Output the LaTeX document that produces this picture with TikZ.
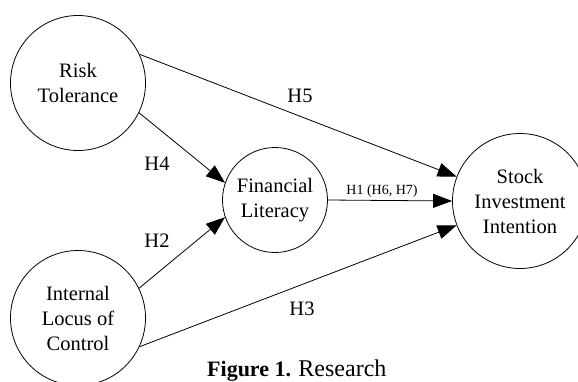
\documentclass[tikz,border=0pt]{standalone}
\usepackage{fontspec}
\setmainfont{Liberation Serif}
\usetikzlibrary{arrows.meta}
\begin{document}
\begin{tikzpicture}[x=1pt,y=-1pt,
  construct/.style={draw, circle, line width=0.8pt, minimum size=135pt, inner sep=0pt, align=center, font=\fontsize{20.5}{25}\selectfont},
  smallconstruct/.style={construct, minimum size=105pt},
  path/.style={line width=0.8pt, -{Triangle[length=19pt,width=14pt]}},
  hlabel/.style={font=\fontsize{20.5}{24}\selectfont, inner sep=0pt}]
\useasboundingbox (0,0) rectangle (578,381);
\node[construct] (risk) at (78,83) {Risk\\Tolerance};
\node[construct] (ilc) at (78,318) {Internal\\Locus of\\Control};
\node[smallconstruct] (fl) at (275,200) {Financial\\Literacy};
\node[construct] (sii) at (520,201) {Stock\\Investment\\Intention};
\draw[path] (risk.25) -- (sii.159);
\draw[path] (risk.-26) -- (fl.161);
\draw[path] (ilc.26) -- (fl.199);
\draw[path] (ilc.-25) -- (sii.201);
\draw[path] (fl.0) -- (sii.180);
\node[hlabel] (h5) at (300,96) {H5};
\node[hlabel] (h4) at (157,164) {H4};
\node[hlabel] (h2) at (157,241) {H2};
\node[hlabel] (h3) at (302,309) {H3};
\node[font=\fontsize{14}{16}\selectfont, inner sep=0pt] (h1) at (382,191) {H1 (H6, H7)};
\node[anchor=base west, inner sep=0pt] (cap) at (207,376) {\fontsize{22}{26}\selectfont\textbf{Figure 1.} \fontsize{24}{28}\selectfont Research};
\end{tikzpicture}
\end{document}
